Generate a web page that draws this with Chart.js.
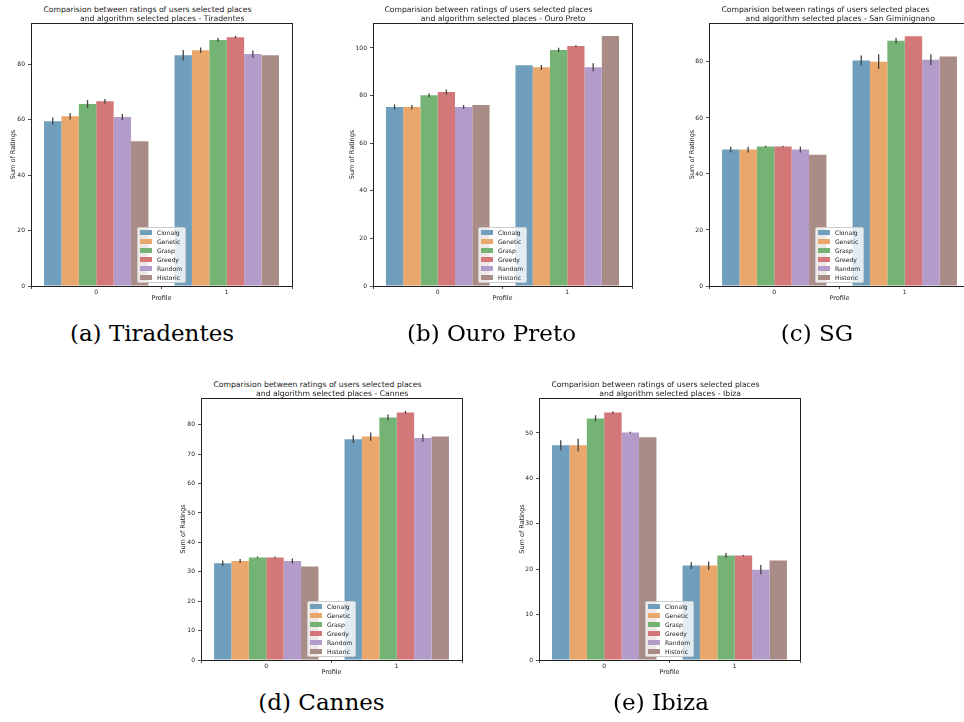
<!DOCTYPE html>
<html>
<head>
<meta charset="utf-8">
<script src="https://cdn.jsdelivr.net/npm/chart.js@4.4.0/dist/chart.umd.min.js"></script>
<style>
  html, body { margin: 0; padding: 0; width: 964px; height: 722px; overflow: hidden; background: #fff; }
  .panel { position: absolute; }
  .panel canvas { position: absolute; left: 0; top: 0; }
  .title { position: absolute; width: 400px; text-align: center; font-family: "DejaVu Sans"; font-size: 7.7px;
           line-height: 9px; color: #1a1a1a; white-space: pre; }
  .caption { position: absolute; width: 300px; text-align: center; font-family: "DejaVu Serif"; font-size: 23px;
             line-height: 23px; color: #000; white-space: pre; }
  .legend { position: absolute; background: rgba(255,255,255,0.8); border: 1px solid #cccccc; border-radius: 2px;
            padding: 0 3px 0 2px; font-family: "DejaVu Sans"; font-size: 6.1px; color: #1a1a1a; }
  .legend .row { height: 9px; line-height: 9px; white-space: nowrap; }
  .legend .patch { display: inline-block; width: 12.5px; height: 4.5px; margin-right: 4.5px; vertical-align: middle; position: relative; top: -0.5px; }
</style>
</head>
<body>
<script>
"use strict";

// ---- data ----
const algorithms = ["Clonalg", "Genetic", "Grasp", "Greedy", "Random", "Historic"];
const profiles = ["0", "1"];

const tiradentesProfile0 = [59.4, 61.2, 65.6, 66.6, 60.9, 52.2];
const tiradentesProfile1 = [83.2, 85.0, 88.7, 89.7, 83.6, 83.2];
const tiradentesErr0 = [1.3, 1.2, 1.4, 0.8, 1.1, 0];
const tiradentesErr1 = [1.9, 1.0, 0.7, 0.4, 1.3, 0];
const tiradentesTicks = [0, 20, 40, 60, 80];

const ouroPretoProfile0 = [75.2, 75.2, 80.1, 81.5, 75.2, 76.0];
const ouroPretoProfile1 = [92.8, 91.9, 99.2, 100.8, 91.9, 105.0];
const ouroPretoErr0 = [1.1, 0.9, 0.8, 1.0, 0.8, 0];
const ouroPretoErr1 = [0, 1.0, 0.9, 0.35, 1.7, 0];
const ouroPretoTicks = [0, 20, 40, 60, 80, 100];

const sanGiminignanoProfile0 = [48.7, 48.7, 49.8, 49.8, 48.7, 46.9];
const sanGiminignanoProfile1 = [80.5, 80.1, 87.6, 89.2, 80.8, 81.9];
const sanGiminignanoErr0 = [1.0, 1.0, 0.3, 0.3, 1.0, 0];
const sanGiminignanoErr1 = [1.8, 2.6, 1.0, 0, 1.9, 0];
const sanGiminignanoTicks = [0, 20, 40, 60, 80];

const cannesProfile0 = [32.9, 33.65, 34.9, 34.9, 33.65, 31.8];
const cannesProfile1 = [75.1, 76.0, 82.5, 84.2, 75.5, 76.0];
const cannesErr0 = [0.9, 0.7, 0.3, 0.3, 0.85, 0];
const cannesErr1 = [1.3, 1.4, 1.0, 0.5, 1.3, 0];
const cannesTicks = [0, 10, 20, 30, 40, 50, 60, 70, 80];

const ibizaProfile0 = [47.3, 47.3, 53.2, 54.5, 50.1, 49.05];
const ibizaProfile1 = [20.8, 20.8, 23.0, 23.0, 19.9, 21.9];
const ibizaErr0 = [1.1, 1.4, 0.7, 0.25, 0.15, 0];
const ibizaErr1 = [0.75, 0.9, 0.55, 0.15, 1.0, 0];
const ibizaTicks = [0, 10, 20, 30, 40, 50];

// seaborn desaturated tab10 at alpha 0.7 on white
const barColors = ["#709ebd", "#eaa76b", "#75b375", "#d37778", "#b39cc9", "#a98c86"];

const TITLE_LINE1 = "Comparision between ratings of users selected places";
const FONT = "DejaVu Sans";
const INK = "#222222";

const panels = [
  { city: "Tiradentes", caption: "(a) Tiradentes", area: { left: 31, top: 23, width: 261, height: 263 },
    captionX: 152, captionBase: 341.7, yTitleGap: 17.5, yMax: 94.8,
    v0: tiradentesProfile0, v1: tiradentesProfile1, e0: tiradentesErr0, e1: tiradentesErr1, ticks: tiradentesTicks },
  { city: "Ouro Preto", caption: "(b) Ouro Preto", area: { left: 373, top: 23, width: 259, height: 263 },
    captionX: 491.5, captionBase: 341.7, yTitleGap: 21, yMax: 110.5,
    v0: ouroPretoProfile0, v1: ouroPretoProfile1, e0: ouroPretoErr0, e1: ouroPretoErr1, ticks: ouroPretoTicks },
  { city: "San Giminignano", caption: "(c) SG", area: { left: 709, top: 23, width: 261, height: 263 },
    captionX: 817, captionBase: 341.7, yTitleGap: 16.6, yMax: 93.9,
    v0: sanGiminignanoProfile0, v1: sanGiminignanoProfile1, e0: sanGiminignanoErr0, e1: sanGiminignanoErr1, ticks: sanGiminignanoTicks },
  { city: "Cannes", caption: "(d) Cannes", area: { left: 201, top: 398, width: 261, height: 262 },
    captionX: 321.5, captionBase: 710.3, yTitleGap: 17.4, yMax: 89.1,
    v0: cannesProfile0, v1: cannesProfile1, e0: cannesErr0, e1: cannesErr1, ticks: cannesTicks },
  { city: "Ibiza", caption: "(e) Ibiza", area: { left: 539, top: 398, width: 261, height: 262 },
    captionX: 661, captionBase: 710.3, yTitleGap: 16.6, yMax: 57.7,
    v0: ibizaProfile0, v1: ibizaProfile1, e0: ibizaErr0, e1: ibizaErr1, ticks: ibizaTicks },
];

// error bars drawn through the y scale
const errorBars = {
  id: "errorBars",
  afterDatasetsDraw(chart, args, opts) {
    const ctx = chart.ctx;
    const y = chart.scales.y;
    ctx.save();
    ctx.strokeStyle = "#444444";
    ctx.lineWidth = 1.3;
    chart.data.datasets.forEach((ds, i) => {
      const meta = chart.getDatasetMeta(i);
      meta.data.forEach((bar, j) => {
        const err = ds.errors[j];
        if (!err) return;
        const v = ds.data[j];
        ctx.beginPath();
        ctx.moveTo(bar.x, y.getPixelForValue(v - err));
        ctx.lineTo(bar.x, y.getPixelForValue(v + err));
        ctx.stroke();
      });
    });
    ctx.restore();
  },
};

// axes box (all four spines)
const frame = {
  id: "frame",
  afterDraw(chart) {
    const { left, top, right, bottom } = chart.chartArea;
    const ctx = chart.ctx;
    ctx.save();
    ctx.strokeStyle = INK;
    ctx.lineWidth = 1;
    ctx.strokeRect(Math.round(left) + 0.5, Math.round(top) + 0.5, Math.round(right - left), Math.round(bottom - top));
    ctx.restore();
  },
};

function addText(cls, text, left, top) {
  const d = document.createElement("div");
  d.className = cls;
  d.textContent = text;
  d.style.left = left + "px";
  d.style.top = top + "px";
  document.body.appendChild(d);
  return d;
}

function buildPanel(p) {
  const a = p.area;
  const padL = 1, padT = 3, padR = 3, yAxisW = 30, xAxisH = 18;
  const cw = padL + yAxisW + a.width + padR;
  const ch = padT + a.height + xAxisH;

  const div = document.createElement("div");
  div.className = "panel";
  div.style.left = (a.left - padL - yAxisW) + "px";
  div.style.top = (a.top - padT) + "px";
  div.style.width = cw + "px";
  div.style.height = ch + "px";
  const canvas = document.createElement("canvas");
  canvas.width = cw;
  canvas.height = ch;
  canvas.style.width = cw + "px";
  canvas.style.height = ch + "px";
  div.appendChild(canvas);
  document.body.appendChild(div);

  const center = a.left + a.width / 2;
  addText("title", TITLE_LINE1, center - 14 - 200, a.top - 10.7 - 7.2);
  addText("title", "and algorithm selected places - " + p.city, center + 0.7 - 200, a.top - 1.7 - 7.2);
  addText("caption", p.caption, p.captionX - 150, p.captionBase - 19.5);

  const axisGrid = { display: true, drawOnChartArea: false, drawTicks: true, tickLength: 3, color: INK, lineWidth: 0.8 };

  const chart = new Chart(canvas, {
    type: "bar",
    data: {
      labels: profiles,
      datasets: algorithms.map((name, i) => ({
        label: name,
        data: [p.v0[i], p.v1[i]],
        errors: [p.e0[i], p.e1[i]],
        backgroundColor: barColors[i],
        borderWidth: 0,
        categoryPercentage: 0.8,
        barPercentage: 1.0,
      })),
    },
    options: {
      responsive: false,
      animation: false,
      devicePixelRatio: 1,
      layout: { padding: { left: padL, top: padT, right: padR, bottom: 0 } },
      plugins: { legend: { display: false }, tooltip: { enabled: false } },
      scales: {
        x: {
          grid: axisGrid,
          border: { display: false },
          ticks: { font: { family: FONT, size: 6 }, color: INK, padding: 0 },
          title: { display: true, text: "Profile", font: { family: FONT, size: 6.5 }, color: INK, padding: { top: 0, bottom: 1.6 } },
          afterFit(s) { s.height = xAxisH; s.paddingLeft = 0; s.paddingRight = 0; },
        },
        y: {
          min: 0,
          max: p.yMax,
          grid: axisGrid,
          border: { display: false },
          ticks: { font: { family: FONT, size: 6 }, color: INK, padding: 3 },
          afterBuildTicks(s) { s.ticks = p.ticks.map((v) => ({ value: v })); },
          title: { display: true, text: "Sum of Ratings", font: { family: FONT, size: 6.5 }, color: INK,
                   padding: { top: padL + yAxisW - p.yTitleGap - 3.9 - padL, bottom: 0 } },
          afterFit(s) { s.width = yAxisW; s.paddingTop = 0; s.paddingBottom = 0; },
        },
      },
    },
    plugins: [errorBars, frame],
  });

  // legend, lower center inside the axes
  const lg = document.createElement("div");
  lg.className = "legend";
  chart.data.datasets.forEach((ds) => {
    const row = document.createElement("div");
    row.className = "row";
    const patch = document.createElement("span");
    patch.className = "patch";
    patch.style.background = ds.backgroundColor;
    row.appendChild(patch);
    row.appendChild(document.createTextNode(ds.label));
    lg.appendChild(row);
  });
  document.body.appendChild(lg);
  const r = lg.getBoundingClientRect();
  lg.style.left = (center - r.width / 2) + "px";
  lg.style.top = (a.top + a.height - 3.5 - r.height) + "px";
}

panels.forEach(buildPanel);
</script>
</body>
</html>
